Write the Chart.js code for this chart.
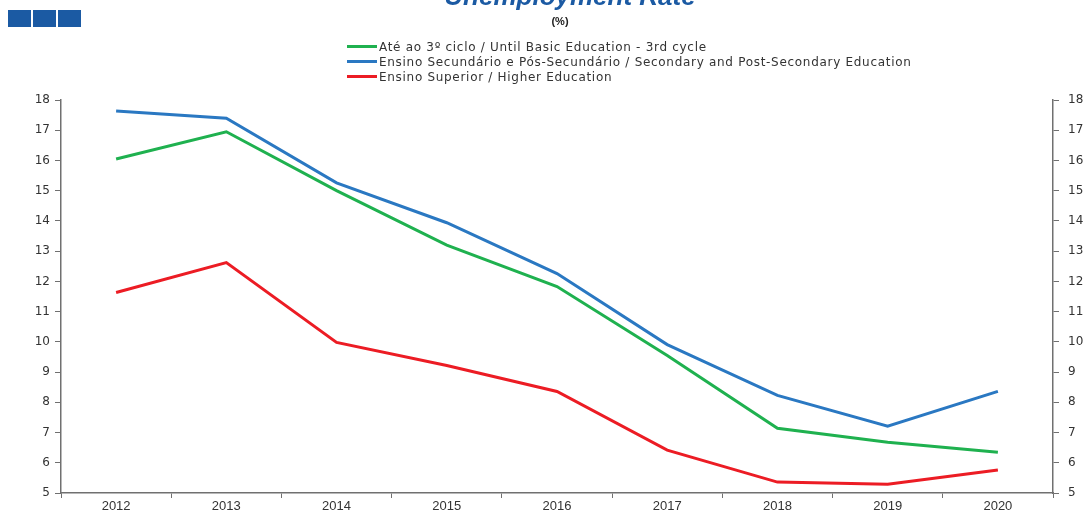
<!DOCTYPE html>
<html>
<head>
<meta charset="utf-8">
<script src="https://cdn.jsdelivr.net/npm/chart.js@4"></script>
<style>
  body { margin: 0; background: #fff; font-family: "Liberation Sans", Arial, sans-serif; }
  #wrap { position: relative; width: 1084px; height: 516px; overflow: hidden; }
  #chart { position: absolute; left: 0; top: 0; }
  .squares { position: absolute; left: 8px; top: 10px; display: flex; gap: 2px; }
  .squares div { width: 23px; height: 17px; background: #1b5aa3; }
  .title { position: absolute; left: 0; width: 1140px; top: -19px; text-align: center;
           color: #1b5aa3; font: italic bold 26px "Liberation Sans", Arial, sans-serif; }
  .unit { position: absolute; left: 0; width: 1120px; top: 15px; text-align: center;
          font: bold 11px "Liberation Sans", Arial, sans-serif; color: #222; }
  #legend { position: absolute; left: 347px; top: 39px; font: 12px "DejaVu Sans", Verdana, sans-serif;
            letter-spacing: 0.7px; color: #333; }
  #legend .row { display: flex; align-items: center; height: 15px; white-space: nowrap; }
  #legend .sw { width: 30px; height: 3px; margin-right: 2px; }
</style>
</head>
<body>
<div id="wrap">
  <canvas id="chart" width="1084" height="516"></canvas>
  <div class="squares"><div></div><div></div><div></div></div>
  <div class="title">Unemployment Rate</div>
  <div class="unit">(%)</div>
  <div id="legend"></div>
</div>
<script>
// anos
const years = ['2012', '2013', '2014', '2015', '2016', '2017', '2018', '2019', '2020'];

// taxa de desemprego (%) por nível de escolaridade
const basicEdu = [16.05, 16.95, 15.0, 13.2, 11.83, 9.55, 7.14, 6.68, 6.35];
const secondaryEdu = [17.64, 17.4, 15.26, 13.94, 12.26, 9.91, 8.23, 7.21, 8.36];
const higherEdu = [11.63, 12.62, 9.98, 9.22, 8.36, 6.42, 5.36, 5.29, 5.76];

const seriesLabels = [
    'Até ao 3º ciclo / Until Basic Education - 3rd cycle',
    'Ensino Secundário e Pós-Secundário / Secondary and Post-Secondary Education',
    'Ensino Superior / Higher Education'
];
const seriesColors = ['#1fb14f', '#2a78c2', '#ec1c24'];

const yMin = 5;
const yMax = 18;

const datasets = [basicEdu, secondaryEdu, higherEdu].map((data, i) => ({
    label: seriesLabels[i],
    data,
    borderColor: seriesColors[i],
    backgroundColor: seriesColors[i],
    borderWidth: 3,
    pointRadius: 0,
    tension: 0,
    yAxisID: 'y'
}));

// legenda em HTML (três linhas empilhadas)
const legendEl = document.getElementById('legend');
datasets.forEach(ds => {
    const row = document.createElement('div');
    row.className = 'row';
    row.innerHTML = `<span class="sw" style="background:${ds.borderColor}"></span><span>${ds.label}</span>`;
    legendEl.appendChild(row);
});

const yFont = { family: '"DejaVu Sans", Verdana, sans-serif', size: 12 };
const xFont = { family: '"Liberation Sans", Arial, sans-serif', size: 13 };
const axisColor = '#707070';

new Chart(document.getElementById('chart'), {
    type: 'line',
    data: { labels: years, datasets },
    options: {
        responsive: false,
        animation: false,
        layout: { padding: { top: 100, left: 0, right: 0, bottom: 0 } },
        plugins: { legend: { display: false }, tooltip: { enabled: false } },
        scales: {
            x: {
                offset: true,
                grid: { offset: true, drawOnChartArea: false, color: axisColor, tickLength: 5 },
                border: { color: axisColor, width: 1.5 },
                ticks: { color: '#333', font: xFont, padding: 1, maxRotation: 0 },
                afterFit: s => { s.height = 23; }
            },
            y: {
                position: 'left',
                min: yMin, max: yMax,
                grid: { drawOnChartArea: false, color: axisColor, tickLength: 6 },
                border: { color: axisColor, width: 1.5 },
                ticks: { stepSize: 1, color: '#333', font: yFont, padding: 5 },
                afterFit: s => { s.width = 61; }
            },
            y2: {
                position: 'right',
                min: yMin, max: yMax,
                grid: { drawOnChartArea: false, color: axisColor, tickLength: 6 },
                border: { color: axisColor, width: 1.5 },
                ticks: { stepSize: 1, color: '#333', font: yFont, padding: 9 },
                afterFit: s => { s.width = 31; }
            }
        }
    }
});
</script>
</body>
</html>
